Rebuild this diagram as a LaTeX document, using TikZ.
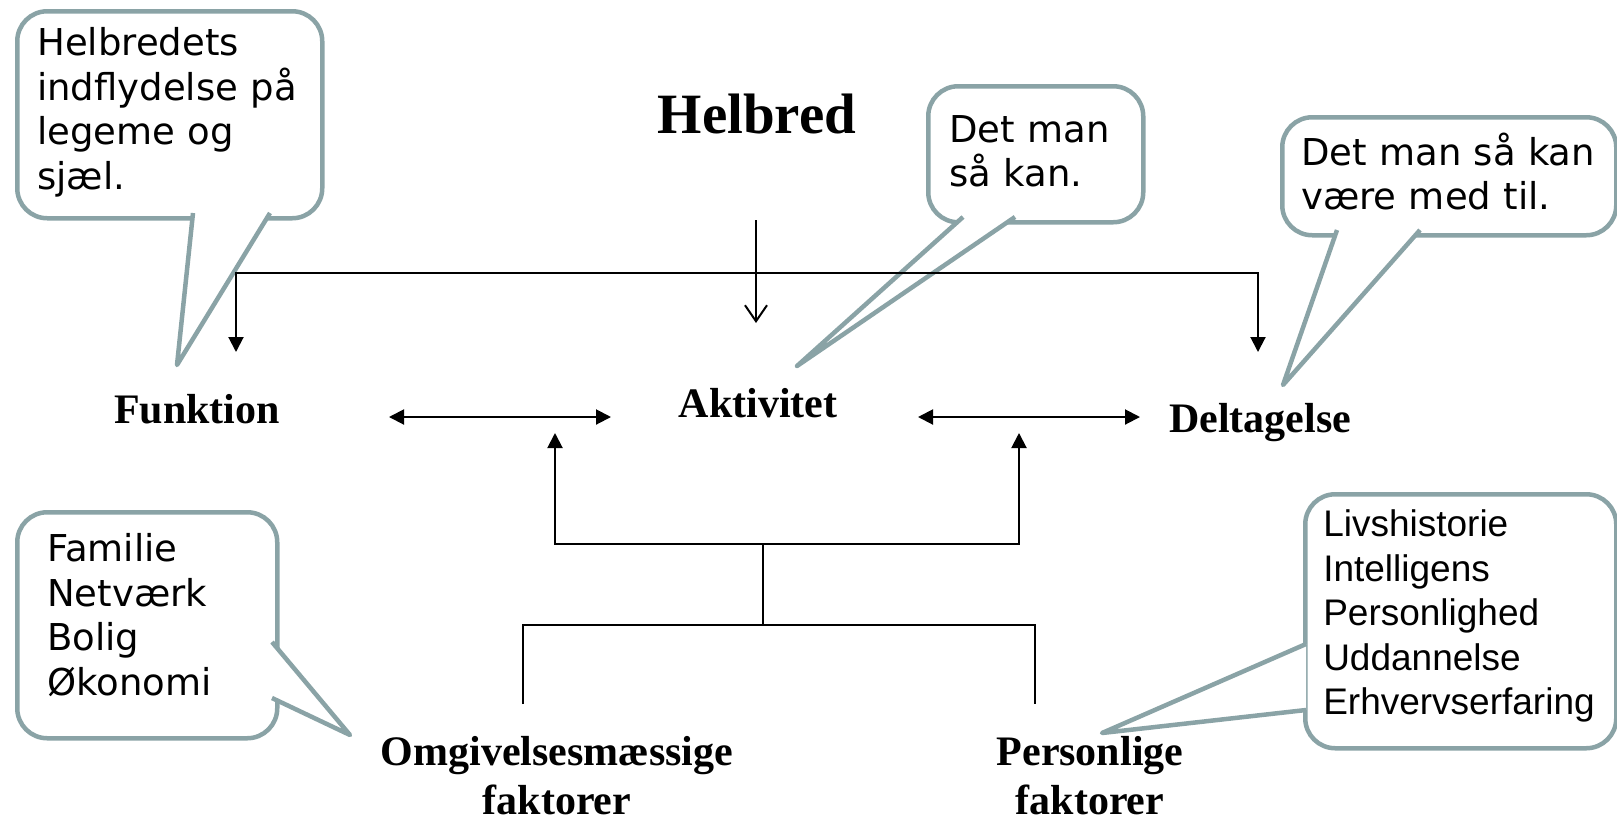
\documentclass[tikz,border=0pt]{standalone}
\usepackage{fontspec}
\setmainfont{Liberation Serif}
\newfontfamily\bubblefont{DejaVu Sans}
\newfontfamily\listfont{Liberation Sans}
\usetikzlibrary{positioning,arrows.meta}
\definecolor{bubblegray}{RGB}{138,163,166}

\begin{document}
\begin{tikzpicture}[x=1pt,y=-1pt,line width=2pt,>={Triangle[length=15pt,width=15pt]},
    bubble/.style={draw=bubblegray,line width=4.5pt,fill=white,rounded corners=30pt,
      anchor=north west,align=left,inner ysep=0pt,
      font=\bubblefont\fontsize{37pt}{44.5pt}\selectfont},
    tail/.style={draw=bubblegray,line width=4.5pt,fill=white,line join=round},
    term/.style={font=\bfseries\fontsize{42pt}{49pt}\selectfont,inner sep=0pt,
      anchor=base,align=center}]
  \useasboundingbox (0,0) rectangle (1617,823);

  % speech bubbles
  \node[bubble,text width=265pt,inner xsep=20pt,minimum height=207pt] (helbredets) at (15,9)
    {Helbredets\\indflydelse på\\legeme og\\sjæl.\rule[-13pt]{0pt}{13pt}};
  \draw[tail] (193,213) -- (177,365) -- (270,213);

  \node[bubble,text width=173pt,inner xsep=21pt,minimum height=136pt] (kan) at (926,84)
    {Det man\\så kan.\rule[-6pt]{0pt}{6pt}};
  \draw[tail] (963,217) -- (797,366) -- (1015,217);

  \node[bubble,text width=296pt,inner xsep=19pt,minimum height=118pt] (medtil) at (1280,115)
    {Det man så kan\\være med til.\rule[-10pt]{0pt}{10pt}};
  \draw[tail] (1337,230) -- (1283,385) -- (1420,230);

  \node[bubble,text width=200pt,inner xsep=30pt,minimum height=226pt] (familie) at (15,510)
    {Familie\\Netværk\\Bolig\\Økonomi\rule[-22pt]{0pt}{22pt}};
  \draw[tail] (272,642) -- (350,735) -- (272,698);

  \node[bubble,font=\listfont\fontsize{37pt}{44.5pt}\selectfont,
    text width=275pt,inner xsep=18pt,minimum height=254pt] (livshistorie) at (1303,492)
    {Livshistorie\\Intelligens\\Personlighed\\Uddannelse\\Erhvervserfaring\rule[-18pt]{0pt}{18pt}};
  \draw[tail] (1306,644) -- (1102,733) -- (1306,710);

  % terms
  \node[term,font=\bfseries\fontsize{57pt}{60pt}\selectfont] (helbred) at (757,133) {Helbred};
  \node[term] (funktion) at (197,423) {Funktion};
  \node[term] (aktivitet) at (758,417) {Aktivitet};
  \node[term] (deltagelse) at (1260,432) {Deltagelse};
  \node[term] (omgivelser) at (557,814) {Omgivelsesmæssige\\faktorer};
  \node[term] (personlige) at (1090,814) {Personlige\\faktorer};

  % connectors
  \coordinate (helbred-out) at (756,220);
  \coordinate (helbred-in) at (756,323);
  \coordinate (fork-l) at (236,273);
  \coordinate (fork-r) at (1258,273);
  \coordinate (funktion-in) at (236,352);
  \coordinate (deltagelse-in) at (1258,352);
  \coordinate (fa-l) at (389,417);
  \coordinate (fa-r) at (611,417);
  \coordinate (ad-l) at (918,417);
  \coordinate (ad-r) at (1140,417);
  \coordinate (up-l) at (555,433);
  \coordinate (up-r) at (1019,433);
  \coordinate (bar-l) at (555,544);
  \coordinate (bar-r) at (1019,544);
  \coordinate (stem-t) at (763,544);
  \coordinate (stem-b) at (763,625);
  \coordinate (leg-l) at (523,625);
  \coordinate (leg-r) at (1035,625);
  \coordinate (omgivelser-in) at (523,704);
  \coordinate (personlige-in) at (1035,704);

  \draw[-{Straight Barb[length=16pt,width=22pt]}] (helbred-out) -- (helbred-in);
  \draw[<->] (funktion-in) -- (fork-l) -- (fork-r) -- (deltagelse-in);
  \draw[<->] (fa-l) -- (fa-r);
  \draw[<->] (ad-l) -- (ad-r);
  \draw[<->] (up-l) -- (bar-l) -- (bar-r) -- (up-r);
  \draw (stem-t) -- (stem-b);
  \draw (omgivelser-in) -- (leg-l) -- (leg-r) -- (personlige-in);
\end{tikzpicture}
\end{document}
